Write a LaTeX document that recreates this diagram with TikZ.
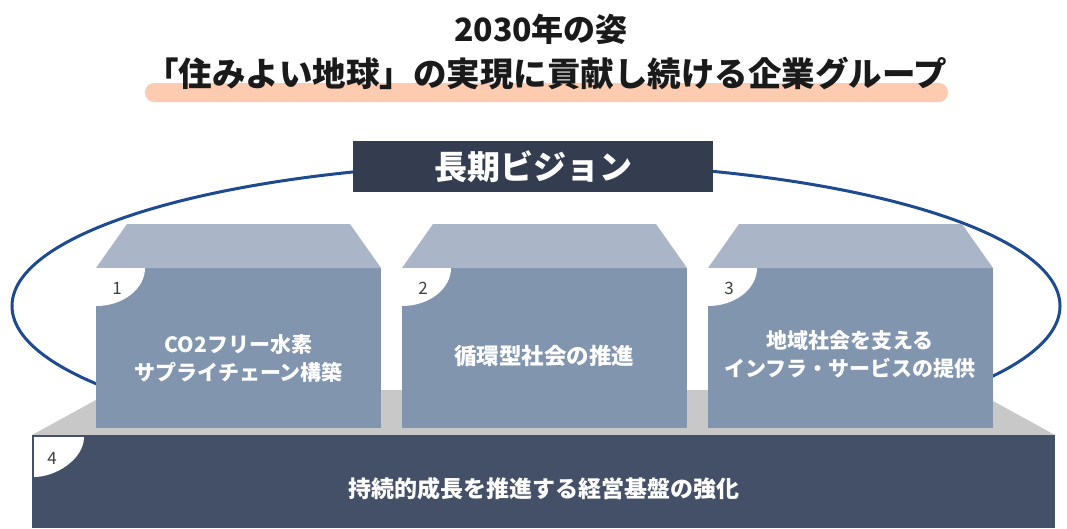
\documentclass[tikz,border=0pt]{standalone}
\usepackage{fontspec}
\setmainfont{Noto Sans CJK JP}
\definecolor{frontc}{HTML}{8295AF}
\definecolor{topc}{HTML}{AAB5C7}
\definecolor{grayc}{HTML}{C8C8C8}
\definecolor{basec}{HTML}{435067}
\definecolor{visc}{HTML}{333D4F}
\definecolor{bandc}{HTML}{FCCBB0}
\definecolor{ringc}{HTML}{1E4A8F}
\definecolor{numc}{HTML}{404040}
\definecolor{titlec}{HTML}{1A1A1A}
\begin{document}
\begin{tikzpicture}[x=1pt,y=-1pt,
  front/.style={fill=frontc, draw=none, minimum width=285pt, minimum height=160pt, anchor=north west, inner sep=0pt, outer sep=0pt},
  topface/.style={fill=topc},
  tabshape/.style={fill=white},
  num/.style={font=\fontsize{17}{17}\selectfont, text=numc, inner sep=0pt},
  boxtext/.style={font=\bfseries\fontsize{21}{28}\selectfont, text=white, align=center, inner sep=0pt},
]
\useasboundingbox (0,0) rectangle (1067,528);
% title
\node[fill=bandc, rounded corners=9pt, minimum width=803pt, minimum height=19pt, inner sep=0pt] (band) at (546.5,92.5) {};
\node[font=\bfseries\fontsize{32}{32}\selectfont, text=titlec, inner sep=0pt] (t1) at (541,29) {2030年の姿};
\node[font=\bfseries\fontsize{33.5}{33.5}\selectfont, text=titlec, inner sep=0pt] (t2) at (546,73) {「住みよい地球」の実現に貢献し続ける企業グループ};
% ring
\draw[ringc, line width=3pt] (536,306) ellipse [x radius=524, y radius=143];
% platform and base
\fill[grayc] (32,435) -- (114,390) -- (973,390) -- (1055,435) -- cycle;
\node[fill=basec, minimum width=1023pt, minimum height=93pt, anchor=north west, inner sep=0pt] (base) at (32,435) {};
\fill[tabshape] (base.north west) ++(2,2) -- ++(50,0) .. controls ++(0,22) and ++(22,0) .. ++(-50,40) -- cycle;
\node[num] (n4) at (52,458) {4};
\node[boxtext, font=\bfseries\fontsize{23}{23}\selectfont] (bt4) at (544,489) {持続的成長を推進する経営基盤の強化};
% boxes
\foreach \i/\x in {1/96, 2/402, 3/708}{
  \node[front] (b\i) at (\x,268) {};
  \fill[topface] (b\i.north west) -- ++(31,-44) -- ([shift={(-31,-44)}]b\i.north east) -- (b\i.north east) -- cycle;
  \fill[tabshape] (b\i.north west) -- ++(49,0) .. controls ++(0,21) and ++(27,0) .. ++(-49,38) -- cycle;
  \node[num] (n\i) at (\x+21,288) {\i};
}
\node[boxtext] (bt1) at (238.5,358.5) {CO2フリー水素\\サプライチェーン構築};
\node[boxtext, font=\bfseries\fontsize{22.5}{22.5}\selectfont] (bt2) at (544,356) {循環型社会の推進};
\node[boxtext] (bt3) at (850,354.5) {地域社会を支える\\インフラ・サービスの提供};
% vision
\node[fill=visc, minimum width=360pt, minimum height=51pt, inner sep=0pt, text=white, font=\bfseries\fontsize{33}{33}\selectfont] (vis) at (533,166.5) {長期ビジョン};
\end{tikzpicture}
\end{document}
